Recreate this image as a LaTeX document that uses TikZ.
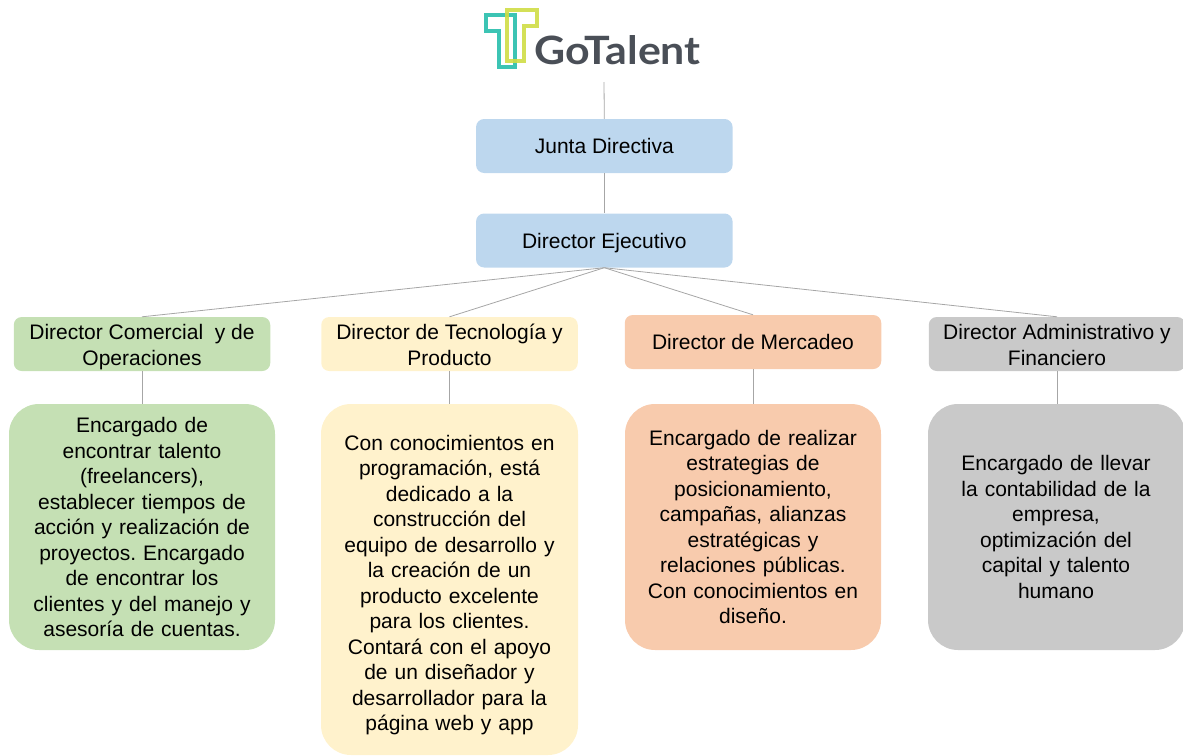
\documentclass[tikz,border=0pt]{standalone}
\usepackage{fontspec}
\setmainfont{Liberation Sans}
\newfontfamily\logofont[FakeStretch=1.1]{Lato}
\frenchspacing
\newcommand{\riser}{\rule{0pt}{25pt}}
\definecolor{blueb}{HTML}{BDD7EE}
\definecolor{greenb}{HTML}{C5E0B4}
\definecolor{yellowb}{HTML}{FFF2CC}
\definecolor{orangeb}{HTML}{F8CBAD}
\definecolor{greyb}{HTML}{C9C9C9}
\definecolor{linec}{HTML}{A6A6A6}
\definecolor{tealc}{HTML}{3CC4B4}
\definecolor{limec}{HTML}{CFDD45}
\definecolor{logotext}{HTML}{4A4F57}
\tikzset{
 x=1pt,y=-1pt,
 txt/.style={font=\fontsize{21}{25.5}\selectfont,align=center,text=black,inner sep=0pt,
   execute at begin node=\setlength{\baselineskip}{25.5pt}\rule{0pt}{22.85pt},
   execute at end node=\strut},
 head/.style={txt,rounded corners=8pt,minimum height=54pt,minimum width=256.5pt},
 headtwo/.style={head,inner ysep=-2.1pt},
 conn/.style={draw=linec,line width=0.8pt},
 logoline/.style={line width=4.4pt,miter limit=10},
 bodybox/.style={rounded corners=30pt},
}
\begin{document}
\begin{tikzpicture}
\useasboundingbox (0,0) rectangle (1183,755);
% logo
\draw[logoline,tealc] (486,15) -- (515,15) -- (515,67) -- (499,67) -- (499,31) -- (486,31) -- cycle;
\draw[logoline,limec,opacity=0.9] (507,10) -- (537,10) -- (537,26) -- (524,26) -- (524,61) -- (507,61) -- cycle;
\node[inner sep=0pt,anchor=base west,text=logotext,font=\logofont\bfseries\fontsize{39}{39}\selectfont] (logo) at (534,64) {GoTalent};
\coordinate (logobottom) at (604,82);
% boxes
\node[head,fill=blueb] (junta) at (604.3,146) {Junta Directiva};
\node[head,fill=blueb] (ejec) at (604.3,240.5) {Director Ejecutivo};
\node[headtwo,fill=greenb] (com) at (142,344) {\riser Director Comercial\ \ y de\\Operaciones};
\node[headtwo,fill=yellowb] (tec) at (449.5,344) {\riser Director de Tecnología y\\Producto};
\node[head,fill=orangeb] (mer) at (753,342) {Director de Mercadeo};
\node[headtwo,fill=greyb] (adm) at (1057,344) {\riser Director Administrativo y\\Financiero};
\fill[greenb,bodybox] (9,404) rectangle (275,650);
\fill[yellowb,bodybox] (321,404) rectangle (578,755);
\fill[orangeb,bodybox] (625,404) rectangle (881,650);
\fill[greyb,bodybox] (928,404) rectangle (1185,650);
\coordinate (bcomtop) at (142,404);
\coordinate (btectop) at (449.5,404);
\coordinate (bmertop) at (753,404);
\coordinate (badmtop) at (1057,404);
\node[txt,text width=250pt] (tcom) at (142,527) {Encargado de\\encontrar talento\\(freelancers),\\establecer tiempos de\\acción y realización de\\proyectos. Encargado\\de encontrar los\\clientes y del manejo y\\asesoría de cuentas.};
\node[txt,text width=250pt] (ttec) at (449.5,583) {Con conocimientos en\\programación, está\\dedicado a la\\construcción del\\equipo de desarrollo y\\la creación de un\\producto excelente\\para los clientes.\\Contará con el apoyo\\de un diseñador y\\desarrollador para la\\página web y app};
\node[txt,text width=250pt] (tmer) at (753,527) {Encargado de realizar\\estrategias de\\posicionamiento,\\campañas, alianzas\\estratégicas y\\relaciones públicas.\\Con conocimientos en\\diseño.};
\node[txt,text width=250pt] (tadm) at (1056,527) {Encargado de llevar\\la contabilidad de la\\empresa,\\optimización del\\capital y talento\\humano};
% connectors
\draw[conn] (logobottom) -- (junta.north);
\draw[conn] (junta.south) -- (ejec.north);
\draw[conn] (ejec.south) -- (com.north);
\draw[conn] (ejec.south) -- (tec.north);
\draw[conn] (ejec.south) -- (mer.north);
\draw[conn] (ejec.south) -- (adm.north);
\draw[conn] (com.south) -- (bcomtop);
\draw[conn] (tec.south) -- (btectop);
\draw[conn] (mer.south) -- (bmertop);
\draw[conn] (adm.south) -- (badmtop);
\end{tikzpicture}
\end{document}
